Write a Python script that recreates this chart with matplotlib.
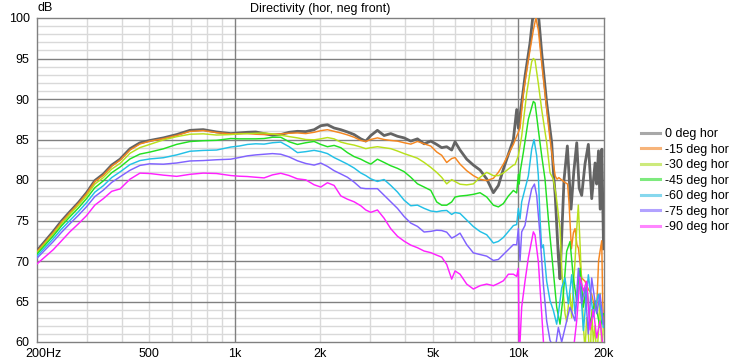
import matplotlib
matplotlib.use("Agg")
import matplotlib.pyplot as plt
from matplotlib.lines import Line2D
from matplotlib.transforms import ScaledTranslation
import numpy as np

plt.rcParams['font.family'] = ['Liberation Sans', 'DejaVu Sans']

# ---------------- data ----------------
freq_common = [200, 214, 229, 245, 262, 281, 300, 321, 344, 368, 394, 427, 463, 502, 560, 624, 695, 774, 863,
               968, 1036, 1108, 1186, 1269, 1358, 1453, 1555, 1664, 1780, 1905, 2011, 2123, 2241, 2366, 2497,
               2636, 2783, 2898, 3018, 3186, 3363, 3550, 3748, 3957, 4177, 4410, 4655, 4914,
               5156, 5370, 5592, 5823, 5984, 6232, 6579, 6945, 7331, 7740, 8171, 8509, 8862, 9229, 9611]

db_0 = [71.22, 72.43, 73.65, 74.95, 76.08, 77.22, 78.43, 79.93, 80.74, 81.84, 82.57, 83.86, 84.59, 84.88, 85.20, 85.61, 86.13, 86.22, 85.93,
        85.73, 85.81, 85.89, 85.93, 85.73, 85.53, 85.61, 85.89, 86.01, 85.97, 86.21, 86.70, 86.82, 86.42, 86.21, 85.93,
        85.61, 85.08, 84.80, 85.49, 86.13, 85.49, 85.73, 85.40, 85.20, 84.80, 85.08, 84.47, 84.80,
        84.39, 83.99, 84.11, 83.70, 84.72, 83.70, 82.57, 81.84, 81.23, 80.13, 78.43, 79.32, 81.35, 83.17, 85.0]
db_15 = [71.1, 72.3, 73.5, 74.8, 75.95, 77.1, 78.3, 79.8, 80.6, 81.7, 82.45, 83.7, 84.45, 84.8, 85.1, 85.5, 86.0, 86.1, 85.85,
         85.69, 85.73, 85.73, 85.65, 85.61, 85.65, 85.69, 85.77, 85.81, 85.73, 85.89, 86.09, 86.21, 86.01, 85.81, 85.57,
         85.28, 84.88, 84.76, 85.0, 85.20, 85.0, 84.88, 84.80, 84.60, 84.43, 84.76, 84.47, 84.19,
         83.46, 83.05, 82.16, 82.65, 82.77, 81.96, 81.15, 80.54, 80.09, 79.93, 80.21, 80.94, 81.96, 83.17, 84.39]
db_30 = [70.95, 72.15, 73.35, 74.6, 75.75, 76.9, 78.05, 79.5, 80.3, 81.35, 82.05, 83.3, 84.0, 84.4, 84.95, 85.35, 85.65, 85.7, 85.55,
         85.61, 85.69, 85.73, 85.77, 85.81, 85.69, 85.53, 85.36, 85.20, 85.0, 84.96, 85.08, 85.24, 85.08, 84.68, 84.47,
         84.31, 84.07, 83.87, 83.99, 84.11, 83.99, 83.87, 83.58, 83.26, 82.98, 82.69, 82.17, 81.56,
         80.94, 80.33, 79.52, 80.05, 79.81, 79.48, 79.40, 79.52, 80.33, 80.94, 80.54, 80.54, 80.86, 81.35, 81.84]
db_45 = [70.8, 71.95, 73.1, 74.35, 75.45, 76.55, 77.7, 79.05, 79.9, 80.9, 81.6, 82.6, 83.2, 83.45, 83.85, 84.4, 84.75, 84.85, 84.9,
         85.12, 85.08, 85.08, 85.08, 85.12, 85.28, 85.28, 84.72, 84.39, 84.60, 84.76, 84.39, 84.11, 84.27, 83.99, 83.38,
         82.89, 82.57, 82.25, 81.96, 82.57, 82.17, 81.76, 81.44, 81.03, 80.34, 79.53, 79.13, 78.72,
         77.29, 76.89, 76.89, 77.29, 77.90, 78.02, 78.10, 78.23, 78.43, 77.90, 76.89, 76.68, 77.09, 78.02, 78.71]
db_60 = [70.55, 71.65, 72.75, 73.95, 75.0, 76.1, 77.2, 78.5, 79.3, 80.3, 81.0, 81.9, 82.4, 82.6, 82.75, 83.1, 83.55, 83.65, 83.7,
         84.07, 84.19, 84.39, 84.47, 84.43, 84.60, 84.68, 84.11, 83.38, 83.50, 83.66, 83.50, 83.26, 82.77, 82.37, 81.96,
         81.48, 80.87, 80.55, 80.14, 79.82, 80.06, 79.33, 78.52, 77.51, 76.82, 76.90, 76.50, 76.17,
         76.08, 76.20, 76.24, 75.75, 75.99, 75.87, 75.06, 74.25, 73.64, 73.24, 72.22, 72.42, 72.91, 73.64, 74.37]
db_75 = [70.3, 71.35, 72.4, 73.55, 74.6, 75.65, 76.7, 77.95, 78.75, 79.7, 80.4, 81.2, 81.8, 82.0, 81.95, 82.1, 82.35, 82.4, 82.5,
         82.57, 82.77, 82.98, 83.10, 83.18, 83.26, 83.18, 82.85, 82.37, 82.04, 81.84, 82.09, 81.68, 81.15, 80.75, 80.34,
         79.74, 79.01, 78.93, 78.93, 78.93, 78.12, 77.31, 76.50, 75.49, 74.68, 74.27, 73.58, 73.66,
         73.80, 73.76, 73.56, 72.83, 73.03, 73.44, 72.02, 71.0, 70.80, 70.60, 70.07, 70.19, 70.80, 71.41, 72.02]
db_90 = [69.6, 70.5, 71.4, 72.5, 73.6, 74.6, 75.6, 76.9, 77.7, 78.6, 78.9, 80.1, 80.85, 80.8, 80.6, 80.45, 80.7, 80.85, 80.8,
         80.55, 80.47, 80.43, 80.34, 80.26, 80.63, 80.83, 80.55, 80.14, 80.02, 79.41, 79.13, 79.66, 79.33, 78.04, 77.63,
         77.31, 76.82, 76.30, 76.01, 76.30, 75.28, 73.99, 73.06, 72.45, 71.96, 71.64, 71.23, 71.03,
         70.72, 70.48, 69.58, 67.76, 68.77, 68.37, 67.15, 66.54, 66.95, 67.15, 66.95, 67.23, 67.56, 68.37, 68.37]

# high-frequency tails (above 9.6 kHz)
hf_freq_0 = [9873, 10008, 10144, 10564, 11002, 11304, 11614, 11773, 12096, 12597, 13120, 13290, 13500, 13850,
             14038, 14230, 14500, 14900, 15350, 15700, 16080, 16400, 16740, 17200, 17670, 18160, 18660, 18900,
             19190, 19450, 19720, 19990]
hf_db_0 = [88.7, 86.4, 87.9, 92.8, 96.9, 100.8, 101.0, 100.6, 95.7, 89.5, 84.6, 81.3, 78.1, 70.5,
           67.8, 73.0, 80.0, 84.2, 76.4, 81.0, 84.6, 79.0, 78.1, 82.0, 84.4, 77.7, 82.1, 79.5,
           83.6, 76.4, 83.8, 71.5]
hf_freq_15 = [9873, 10144, 10422, 10854, 11304, 11540, 11773, 12096, 12597, 12943, 13290, 13500, 13700, 13900,
              14600, 14930, 15100, 15400, 15650, 15860, 16100, 16300, 16740, 17200, 17670, 18160, 18650, 18900,
              19200, 19430, 19700, 19850, 20000]
hf_db_15 = [85.4, 86.4, 90.7, 94.8, 98.5, 100.0, 98.5, 94.4, 88.7, 85.0, 82.1, 80.5, 80.1, 80.3,
            79.7, 79.5, 77.2, 71.5, 73.5, 74.0, 72.0, 71.6, 67.9, 67.5, 66.5, 65.9, 64.0, 63.9,
            70.0, 71.2, 72.5, 65.0, 62.2]
hf_freq_30 = [9740, 10008, 10282, 10708, 11152, 11304, 11458, 11773, 12096, 12597, 12943, 13290, 13600, 14040,
              14230, 14420, 14620, 14820, 15020, 15230, 15430, 15650, 15860, 16080, 16290, 16520, 16740, 16970,
              17200, 17430, 17670, 17910, 18160, 18400, 18650, 18900, 19170, 19430, 19700, 19960]
hf_db_30 = [81.9, 83.0, 85.4, 90.7, 94.6, 95.0, 94.8, 91.9, 88.7, 84.6, 80.9, 80.1, 78.1, 74.0,
            69.1, 66.0, 63.5, 62.5, 64.5, 66.0, 63.0, 67.0, 70.0, 74.0, 76.9, 72.0, 67.0, 62.0,
            59.0, 63.0, 61.0, 57.0, 64.0, 60.0, 62.0, 58.0, 61.0, 66.0, 59.0, 62.0]
hf_freq_45 = [9873, 10008, 10080, 10144, 10422, 10854, 11304, 11458, 11773, 12096, 12428, 12769, 13298, 13663,
              14038, 14424, 14820, 15226, 15644, 16073, 16515, 16968, 17434, 17912, 18654, 19428, 19961]
hf_db_45 = [78.4, 80.7, 79.5, 80.9, 83.4, 87.5, 89.7, 89.5, 86.2, 83.0, 80.1, 75.2, 68.7, 64.3,
            62.2, 65.9, 71.2, 72.4, 67.9, 65.1, 69.1, 64.3, 67.1, 62.2, 65.1, 61.8, 63.5]
hf_freq_60 = [9873, 10008, 10144, 10282, 10564, 10854, 11152, 11366, 11614, 11773, 11933, 12096, 12261, 12597,
              12943, 13298, 13663, 13850, 14230, 14620, 15021, 15434, 15857, 16515, 16968, 17671, 18404, 19167,
              19961]
hf_db_60 = [74.5, 76.5, 75.2, 77.3, 78.9, 80.5, 83.8, 85.0, 83.0, 80.5, 75.2, 71.6, 72.0, 67.5,
            65.1, 63.9, 62.2, 63.5, 66.7, 67.9, 64.7, 68.3, 63.5, 67.9, 61.4, 68.3, 63.1, 65.9,
            61.8]
hf_freq_75 = [9873, 10008, 10144, 10282, 10564, 10854, 11152, 11406, 11614, 11933, 12261, 12597, 12943, 13480,
              13850, 14230, 14820, 15226, 15857, 16293, 16740, 17199, 17671, 18156, 18909, 19428, 19961]
hf_db_75 = [72.0, 74.0, 70.0, 73.6, 74.4, 76.9, 78.9, 79.5, 78.1, 73.2, 67.1, 62.6, 60.2, 59.0,
            61.8, 60.0, 62.6, 64.3, 62.6, 69.1, 64.7, 66.7, 61.0, 67.9, 63.5, 65.9, 62.2]
hf_freq_90 = [9873, 10008, 10080, 10282, 10564, 10854, 11304, 11458, 11773, 12096, 12261, 12597, 13000, 14000,
              15000, 15650, 16073, 16515, 16968, 17434, 17912, 18404, 18909, 19428, 19961]
hf_db_90 = [68.1, 69.1, 58.0, 64.3, 67.5, 70.4, 73.6, 73.2, 69.9, 63.5, 60.2, 55.0, 54.0, 55.0,
            57.0, 59.0, 62.6, 68.0, 66.3, 67.5, 61.5, 64.0, 60.5, 62.6, 59.0]

labels = ['0 deg hor', '-15 deg hor', '-30 deg hor', '-45 deg hor', '-60 deg hor', '-75 deg hor', '-90 deg hor']
colors = ['#646464', '#f5861f', '#b8e01c', '#22e022', '#22c0e6', '#8062ff', '#ff22ff']
legend_colors = ['#a8a8a8', '#f7b47a', '#cdea7c', '#7eea7e', '#86d8ee', '#b2a2ff', '#ff86ff']

series_lo = [db_0, db_15, db_30, db_45, db_60, db_75, db_90]
series_hf_f = [hf_freq_0, hf_freq_15, hf_freq_30, hf_freq_45, hf_freq_60, hf_freq_75, hf_freq_90]
series_hf_d = [hf_db_0, hf_db_15, hf_db_30, hf_db_45, hf_db_60, hf_db_75, hf_db_90]

x_tick_vals = [200, 500, 1000, 2000, 5000, 10000, 20000]
x_tick_labels = ['200Hz', '500', '1k', '2k', '5k', '10k', '20k']
y_tick_vals = [60, 65, 70, 75, 80, 85, 90, 95, 100]

# ---------------- figure ----------------
W, H = 737, 360
fig = plt.figure(figsize=(W / 100, H / 100), dpi=100)
ax = fig.add_axes([36.6 / W, 1 - 342 / H, (603.6 - 36.6) / W, (342 - 18) / H])
ax.set_xscale('log')
ax.set_xlim(200, 20000)
ax.set_ylim(60, 100)

# grid
light = '#d9d9d9'
dark = '#808080'
for dec in (100, 1000, 10000):
    for m in range(2, 10):
        f = dec * m
        if 200 < f < 20000:
            ax.axvline(f, color=light, lw=1.0, zorder=0)
for f in (1000, 10000):
    ax.axvline(f, color=dark, lw=1.0, zorder=0.5)
for v in range(61, 100):
    ax.axhline(v, color=dark if v % 5 == 0 else light, lw=1.0, zorder=0.5 if v % 5 == 0 else 0)

for i in range(7):
    f = list(freq_common) + list(series_hf_f[i])
    d = list(series_lo[i]) + list(series_hf_d[i])
    ax.plot(f, d, color=colors[i], lw=2.0 if i == 0 else 1.05, zorder=2 + i, solid_joinstyle='round')

ax.set_xticks(x_tick_vals)
ax.set_xticklabels(x_tick_labels)
ax.xaxis.set_minor_locator(matplotlib.ticker.NullLocator())
ax.set_yticks(y_tick_vals)
ax.set_yticklabels([str(v) for v in y_tick_vals])
ax.tick_params(axis='both', length=0, labelsize=9, colors='black')
ax.tick_params(axis='x', pad=4)
ax.tick_params(axis='y', pad=5)
for sp in ax.spines.values():
    sp.set_color(dark)
    sp.set_linewidth(1.0)
    sp.set_zorder(1)

# shift "200Hz" so that the number sits under the tick
first = ax.get_xticklabels()[0]
first.set_transform(first.get_transform() + ScaledTranslation(7 / 100, 0, fig.dpi_scale_trans))

fig.text(320 / W, 1 - 9 / H, 'Directivity (hor, neg front)', ha='center', va='center', fontsize=9)
fig.text(37 / W, 1 - 8 / H, 'dB', ha='left', va='center', fontsize=9)

handles = [Line2D([], [], color=c, lw=2.2) for c in legend_colors]
fig.legend(handles, labels, loc='upper left', bbox_to_anchor=(641 / W, 1 - 128 / H),
           frameon=False, fontsize=9, handlelength=1.55, handletextpad=0.35,
           labelspacing=0.28, borderaxespad=0, borderpad=0)

fig.savefig('out.png', dpi=100)
